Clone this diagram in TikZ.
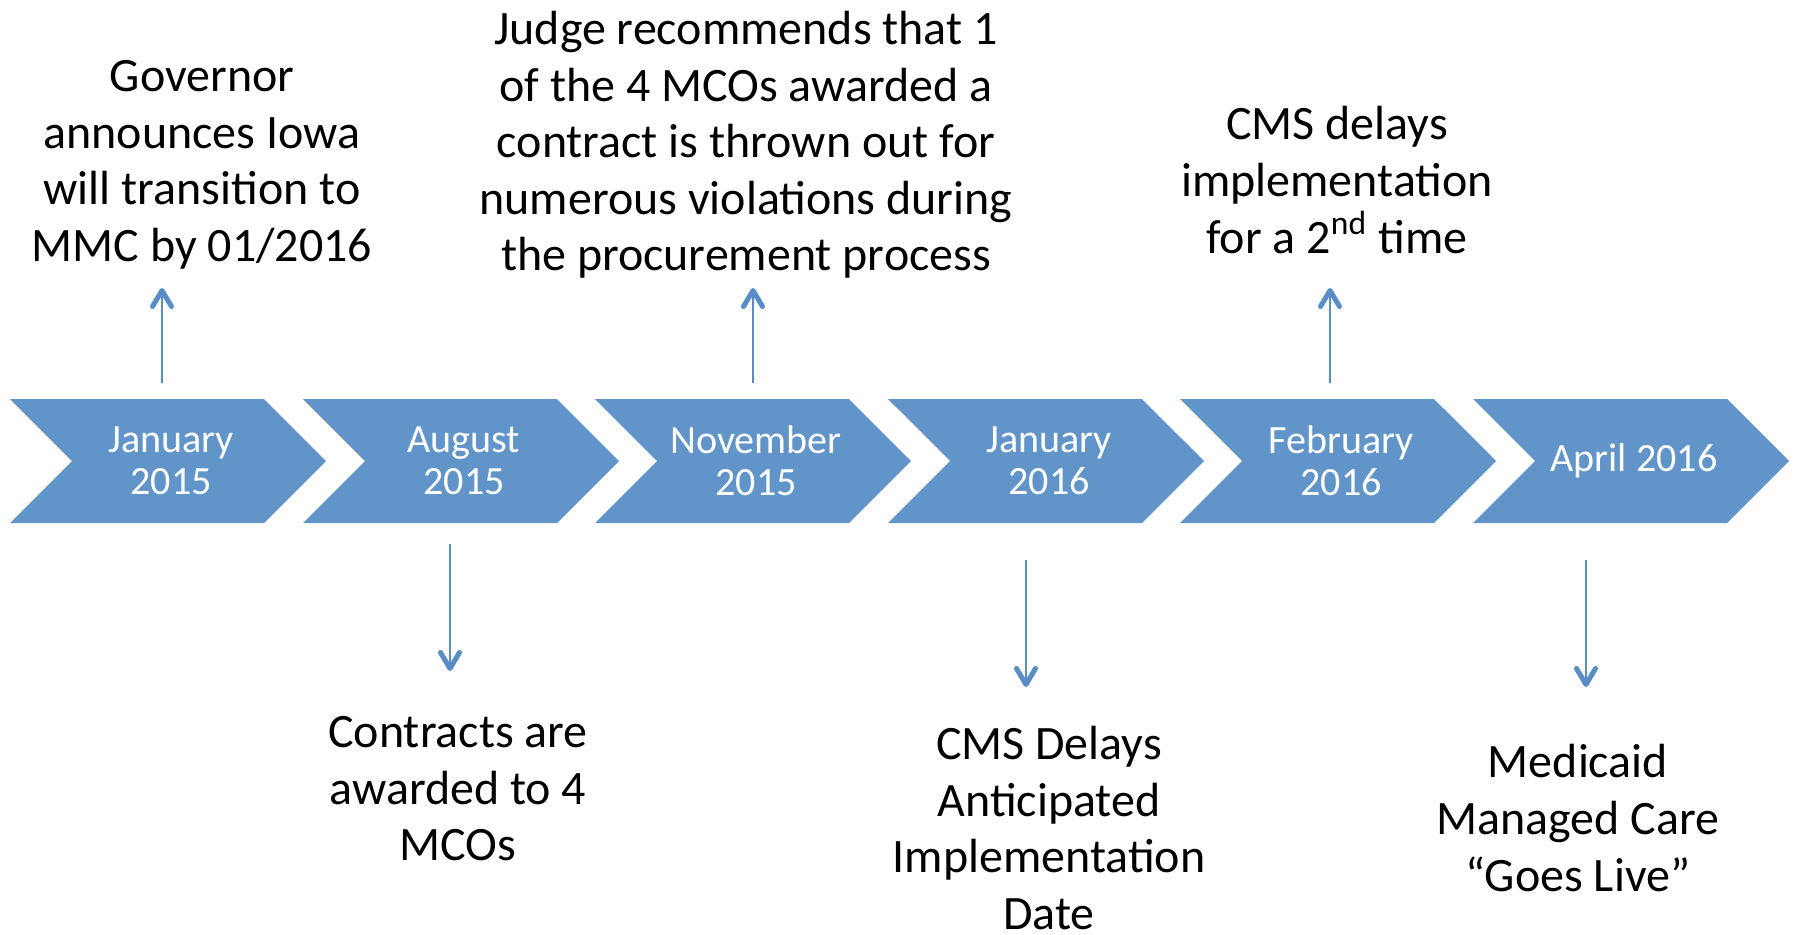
\documentclass[tikz,border=0pt]{standalone}
\usepackage{fontspec}
\setmainfont{Carlito}
\usetikzlibrary{shapes.symbols,arrows.meta}
\definecolor{chevblue}{RGB}{97,149,201}
\definecolor{arrowblue}{RGB}{88,141,199}

\begin{document}
\begin{tikzpicture}[font=\fontsize{13.65}{16.1}\selectfont,
  chevron/.style={signal, signal from=west, signal to=east, signal pointer angle=90, fill=chevblue, text=white, minimum width=3.16cm, minimum height=1.24cm, inner sep=0pt, align=center, font=\fontsize{11.4}{12}\selectfont},
  note/.style={align=center, inner sep=0pt},
  timearrow/.style={draw=arrowblue, line width=0.027cm, -{Straight Barb[length=0.16cm,width=0.19cm,line width=0.05cm,round]}}]
\useasboundingbox (0,0) rectangle (18,-9.35);
% the dates
\node[chevron] (jan15) at (1.68,-4.61) {\hspace*{0.06cm}January\\\hspace*{0.06cm}2015};
\node[chevron] (aug15) at (4.61,-4.61) {\hspace*{0.06cm}August\\\hspace*{0.06cm}2015};
\node[chevron] (nov15) at (7.53,-4.61) {\hspace*{0.06cm}November\\\hspace*{0.06cm}2015};
\node[chevron] (jan16) at (10.46,-4.61) {\hspace*{0.06cm}January\\\hspace*{0.06cm}2016};
\node[chevron] (feb16) at (13.38,-4.61) {\hspace*{0.06cm}February\\\hspace*{0.06cm}2016};
\node[chevron] (apr16) at (16.31,-4.61) {\hspace*{0.06cm}April 2016};
% events above
\node[note] (gov) at (2.02,-1.65) {Governor\\announces Iowa\\will transition to\\MMC by 01/2016};
\node[note] (judge) at (7.46,-1.45) {Judge recommends that 1\\of the 4 MCOs awarded a\\contract is thrown out for\\numerous violations during\\the procurement process};
\node[note] (cmsup) at (13.37,-1.80) {CMS delays\\implementation\\for a 2\textsuperscript{nd} time};
% events below
\node[note] (award) at (4.58,-7.89) {Contracts are\\awarded to 4\\MCOs};
\node[note] (cmsdown) at (10.49,-8.28) {CMS Delays\\Anticipated\\Implementation\\Date};
\node[note] (live) at (15.78,-8.18) {Medicaid\\Managed Care\\“Goes Live”};
% arrows
\foreach \nm/\x/\ya/\yb in {gov/1.62/-3.83/-2.88, judge/7.53/-3.83/-2.88, cmsup/13.30/-3.83/-2.88,
  award/4.50/-5.44/-6.71, cmsdown/10.26/-5.60/-6.87, live/15.86/-5.60/-6.87}{
  \coordinate (\nm-from) at (\x,\ya);
  \coordinate (\nm-to) at (\x,\yb);
  \draw[timearrow] (\nm-from) -- (\nm-to);
}
\end{tikzpicture}
\end{document}
